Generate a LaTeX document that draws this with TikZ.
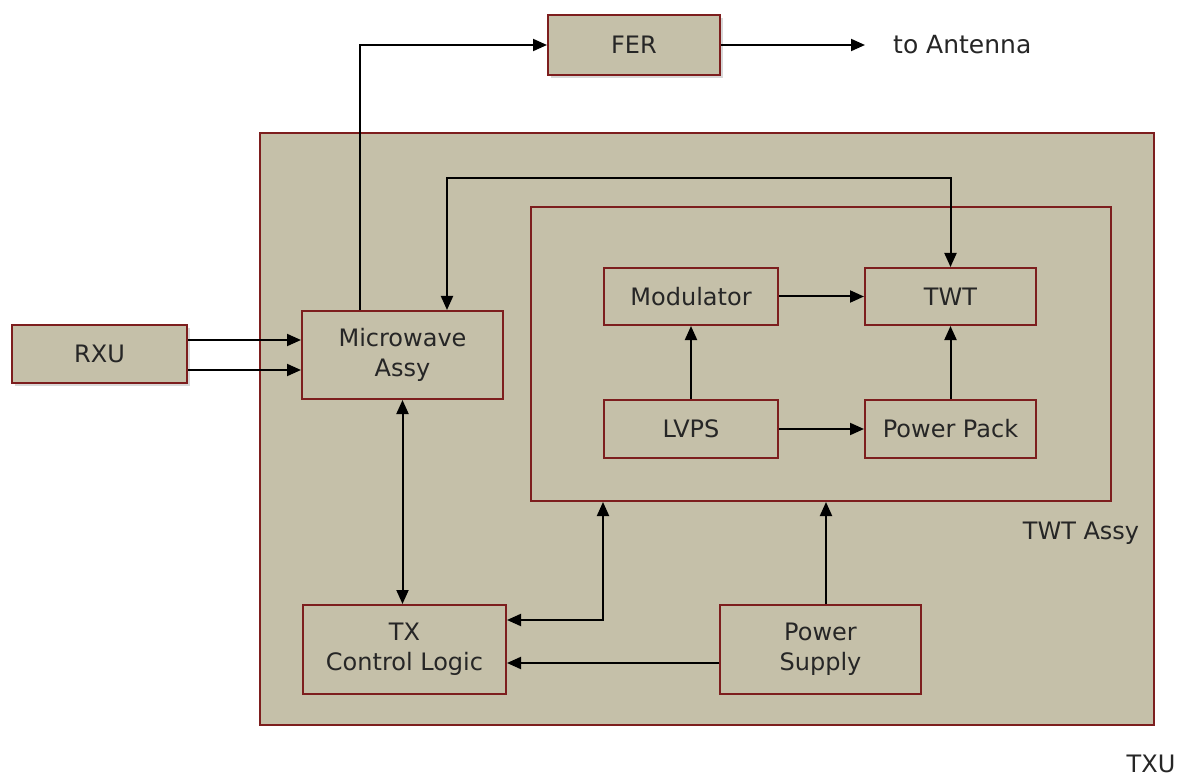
\documentclass[tikz,border=0pt]{standalone}
\usepackage{fontspec}
\setmainfont{DejaVu Sans}
\usetikzlibrary{arrows.meta,shadows}
\definecolor{boxfill}{RGB}{197,192,169}
\definecolor{boxline}{RGB}{125,30,30}
\tikzset{
  blk/.style={draw=boxline, fill=boxfill, line width=2pt, inner sep=0pt, align=center,
    font=\fontsize{24}{30}\selectfont, text=black!85},
  shad/.style={drop shadow={shadow xshift=3pt, shadow yshift=-3pt, fill=black!25, opacity=0.6}},
  conn/.style={line width=2pt, -{Triangle[length=14pt,width=12pt]}},
  bconn/.style={line width=2pt, {Triangle[length=14pt,width=12pt]}-{Triangle[length=14pt,width=12pt]}},
  lbl/.style={font=\fontsize{24}{30}\selectfont, text=black!85, inner sep=0pt}
}
\begin{document}
\begin{tikzpicture}[x=1pt,y=-1pt]
\useasboundingbox (0,0) rectangle (1184,778);
\fill[white] (0,0) rectangle (1184,778);
% outer containers
\node[blk, minimum width=894pt, minimum height=592pt] (txu) at (707,429) {};
\node[blk, minimum width=580pt, minimum height=294pt] (twtassy) at (821,354) {};
% blocks
\node[blk, shad, minimum width=172pt, minimum height=60pt] (fer) at (634,45) {FER};
\node[blk, shad, minimum width=175pt, minimum height=58pt] (rxu) at (99.5,354) {RXU};
\node[blk, minimum width=201pt, minimum height=88pt] (mw) at (402.5,355) {Microwave\\Assy};
\node[blk, minimum width=203pt, minimum height=89pt] (tx) at (404.5,649.5) {TX\\Control Logic};
\node[blk, minimum width=201pt, minimum height=89pt] (ps) at (820.5,649.5) {Power\\Supply};
\node[blk, minimum width=174pt, minimum height=57pt] (mod) at (691,296.5) {Modulator};
\node[blk, minimum width=171pt, minimum height=57pt] (twt) at (950.5,296.5) {TWT};
\node[blk, minimum width=174pt, minimum height=58pt] (lvps) at (691,429) {LVPS};
\node[blk, minimum width=171pt, minimum height=58pt] (pp) at (950.5,429) {Power Pack};
% labels
\node[lbl, anchor=west, font=\fontsize{25}{30}\selectfont] (ant) at (893,45) {to Antenna};
\coordinate (antend) at (865,45);
\node[lbl] (twtassylbl) at (1081,533) {TWT Assy};
\node[lbl, font=\fontsize{24}{30}\selectfont] (txulbl) at (1151,764) {TXU};
% connectors
\draw[conn] (fer.east) -- (antend);
\draw[conn] (mw.north -| 360,0) |- (fer.west);
\draw[conn] (rxu.east |- 0,340) -- (mw.west |- 0,340);
\draw[conn] (rxu.east |- 0,370) -- (mw.west |- 0,370);
\draw[bconn] (mw.north -| 447,0) -- (447,178) -| (twt.north);
\draw[conn] (mod.east) -- (twt.west);
\draw[conn] (lvps.east) -- (pp.west);
\draw[conn] (lvps.north) -- (mod.south);
\draw[conn] (pp.north) -- (twt.south);
\draw[bconn] (mw.south) -- (tx.north -| mw.south);
\draw[bconn] (tx.east |- 0,620) -| (twtassy.south -| 603,0);
\draw[conn] (ps.north -| 826,0) -- (twtassy.south -| 826,0);
\draw[conn] (ps.west |- 0,663) -- (tx.east |- 0,663);
\end{tikzpicture}
\end{document}
